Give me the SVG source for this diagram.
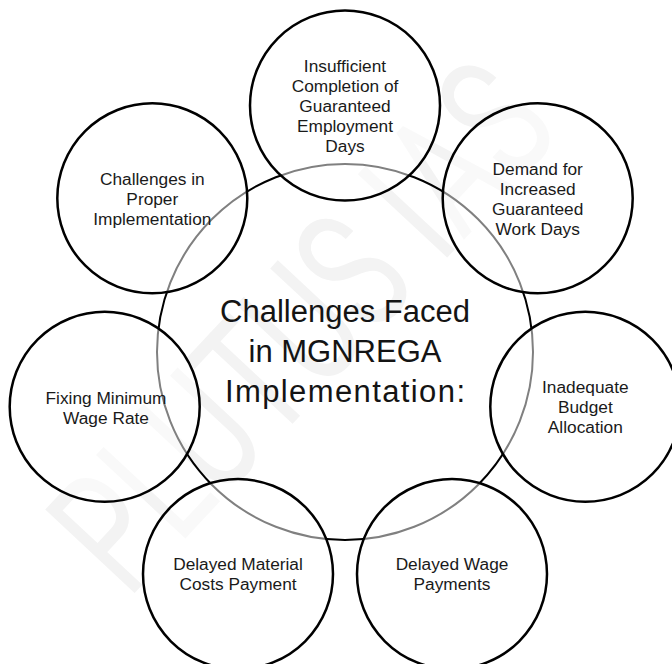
<svg xmlns="http://www.w3.org/2000/svg" width="672" height="664" viewBox="0 0 672 664">
  <style>
    .hub { fill: none; stroke: #000; stroke-width: 2; }
    .petal { fill: #fff; fill-opacity: 0.5; stroke: #000; stroke-width: 2.5; }
    .label { font-family: "Liberation Sans", Arial, sans-serif; font-size: 17.3px; fill: #1a1a1a; text-anchor: middle; }
    .title { font-family: "Liberation Sans", Arial, sans-serif; font-size: 31px; fill: #141414; text-anchor: middle; }
    .mark { font-family: "Roboto", "Liberation Sans", sans-serif; font-weight: 400; font-size: 100px; fill: #f3f3f3; }
  </style>
  <rect width="672" height="664" fill="#fff"/>

  <!-- faint diagonal watermark, stretched to run corner to corner -->
  <text class="mark" transform="translate(128,600) rotate(-47) scale(1.18,1.72)">PLUTUS IAS</text>

  <!-- central hub -->
  <g id="hub">
    <circle class="hub" cx="345" cy="352" r="188"/>
    <text class="title" x="345" y="322">Challenges Faced</text>
    <text class="title" x="345" y="362">in MGNREGA</text>
    <text class="title" x="345" y="402" textLength="240">Implementation:</text>
  </g>

  <g id="connectors"/>

  <!-- seven petals spaced evenly around the hub -->
  <g id="insufficient-days">
    <circle class="petal" cx="345" cy="105.5" r="95"/>
    <text class="label" x="345" y="72">Insufficient</text>
    <text class="label" x="345" y="92">Completion of</text>
    <text class="label" x="345" y="112">Guaranteed</text>
    <text class="label" x="345" y="132">Employment</text>
    <text class="label" x="345" y="152">Days</text>
  </g>

  <g id="demand-days">
    <circle class="petal" cx="537.7" cy="198.3" r="95"/>
    <text class="label" x="537.7" y="174.5">Demand for</text>
    <text class="label" x="537.7" y="194.5">Increased</text>
    <text class="label" x="537.7" y="214.5">Guaranteed</text>
    <text class="label" x="537.7" y="234.5">Work Days</text>
  </g>

  <g id="budget">
    <circle class="petal" cx="585.3" cy="406.8" r="95"/>
    <text class="label" x="585.3" y="392.5">Inadequate</text>
    <text class="label" x="585.3" y="412.5">Budget</text>
    <text class="label" x="585.3" y="432.5">Allocation</text>
  </g>

  <g id="wage-payments">
    <circle class="petal" cx="452" cy="574.1" r="95"/>
    <text class="label" x="452" y="569.5">Delayed Wage</text>
    <text class="label" x="452" y="589.5">Payments</text>
  </g>

  <g id="material-payment">
    <circle class="petal" cx="238" cy="574.1" r="95"/>
    <text class="label" x="238" y="569.5">Delayed Material</text>
    <text class="label" x="238" y="589.5">Costs Payment</text>
  </g>

  <g id="minimum-wage">
    <circle class="petal" cx="104.7" cy="406.8" r="95"/>
    <text class="label" x="106" y="403.5">Fixing Minimum</text>
    <text class="label" x="106" y="423.5">Wage Rate</text>
  </g>

  <g id="implementation">
    <circle class="petal" cx="152.3" cy="198.3" r="95"/>
    <text class="label" x="152.3" y="184.5">Challenges in</text>
    <text class="label" x="152.3" y="204.5">Proper</text>
    <text class="label" x="152.3" y="224.5">Implementation</text>
  </g>
</svg>
